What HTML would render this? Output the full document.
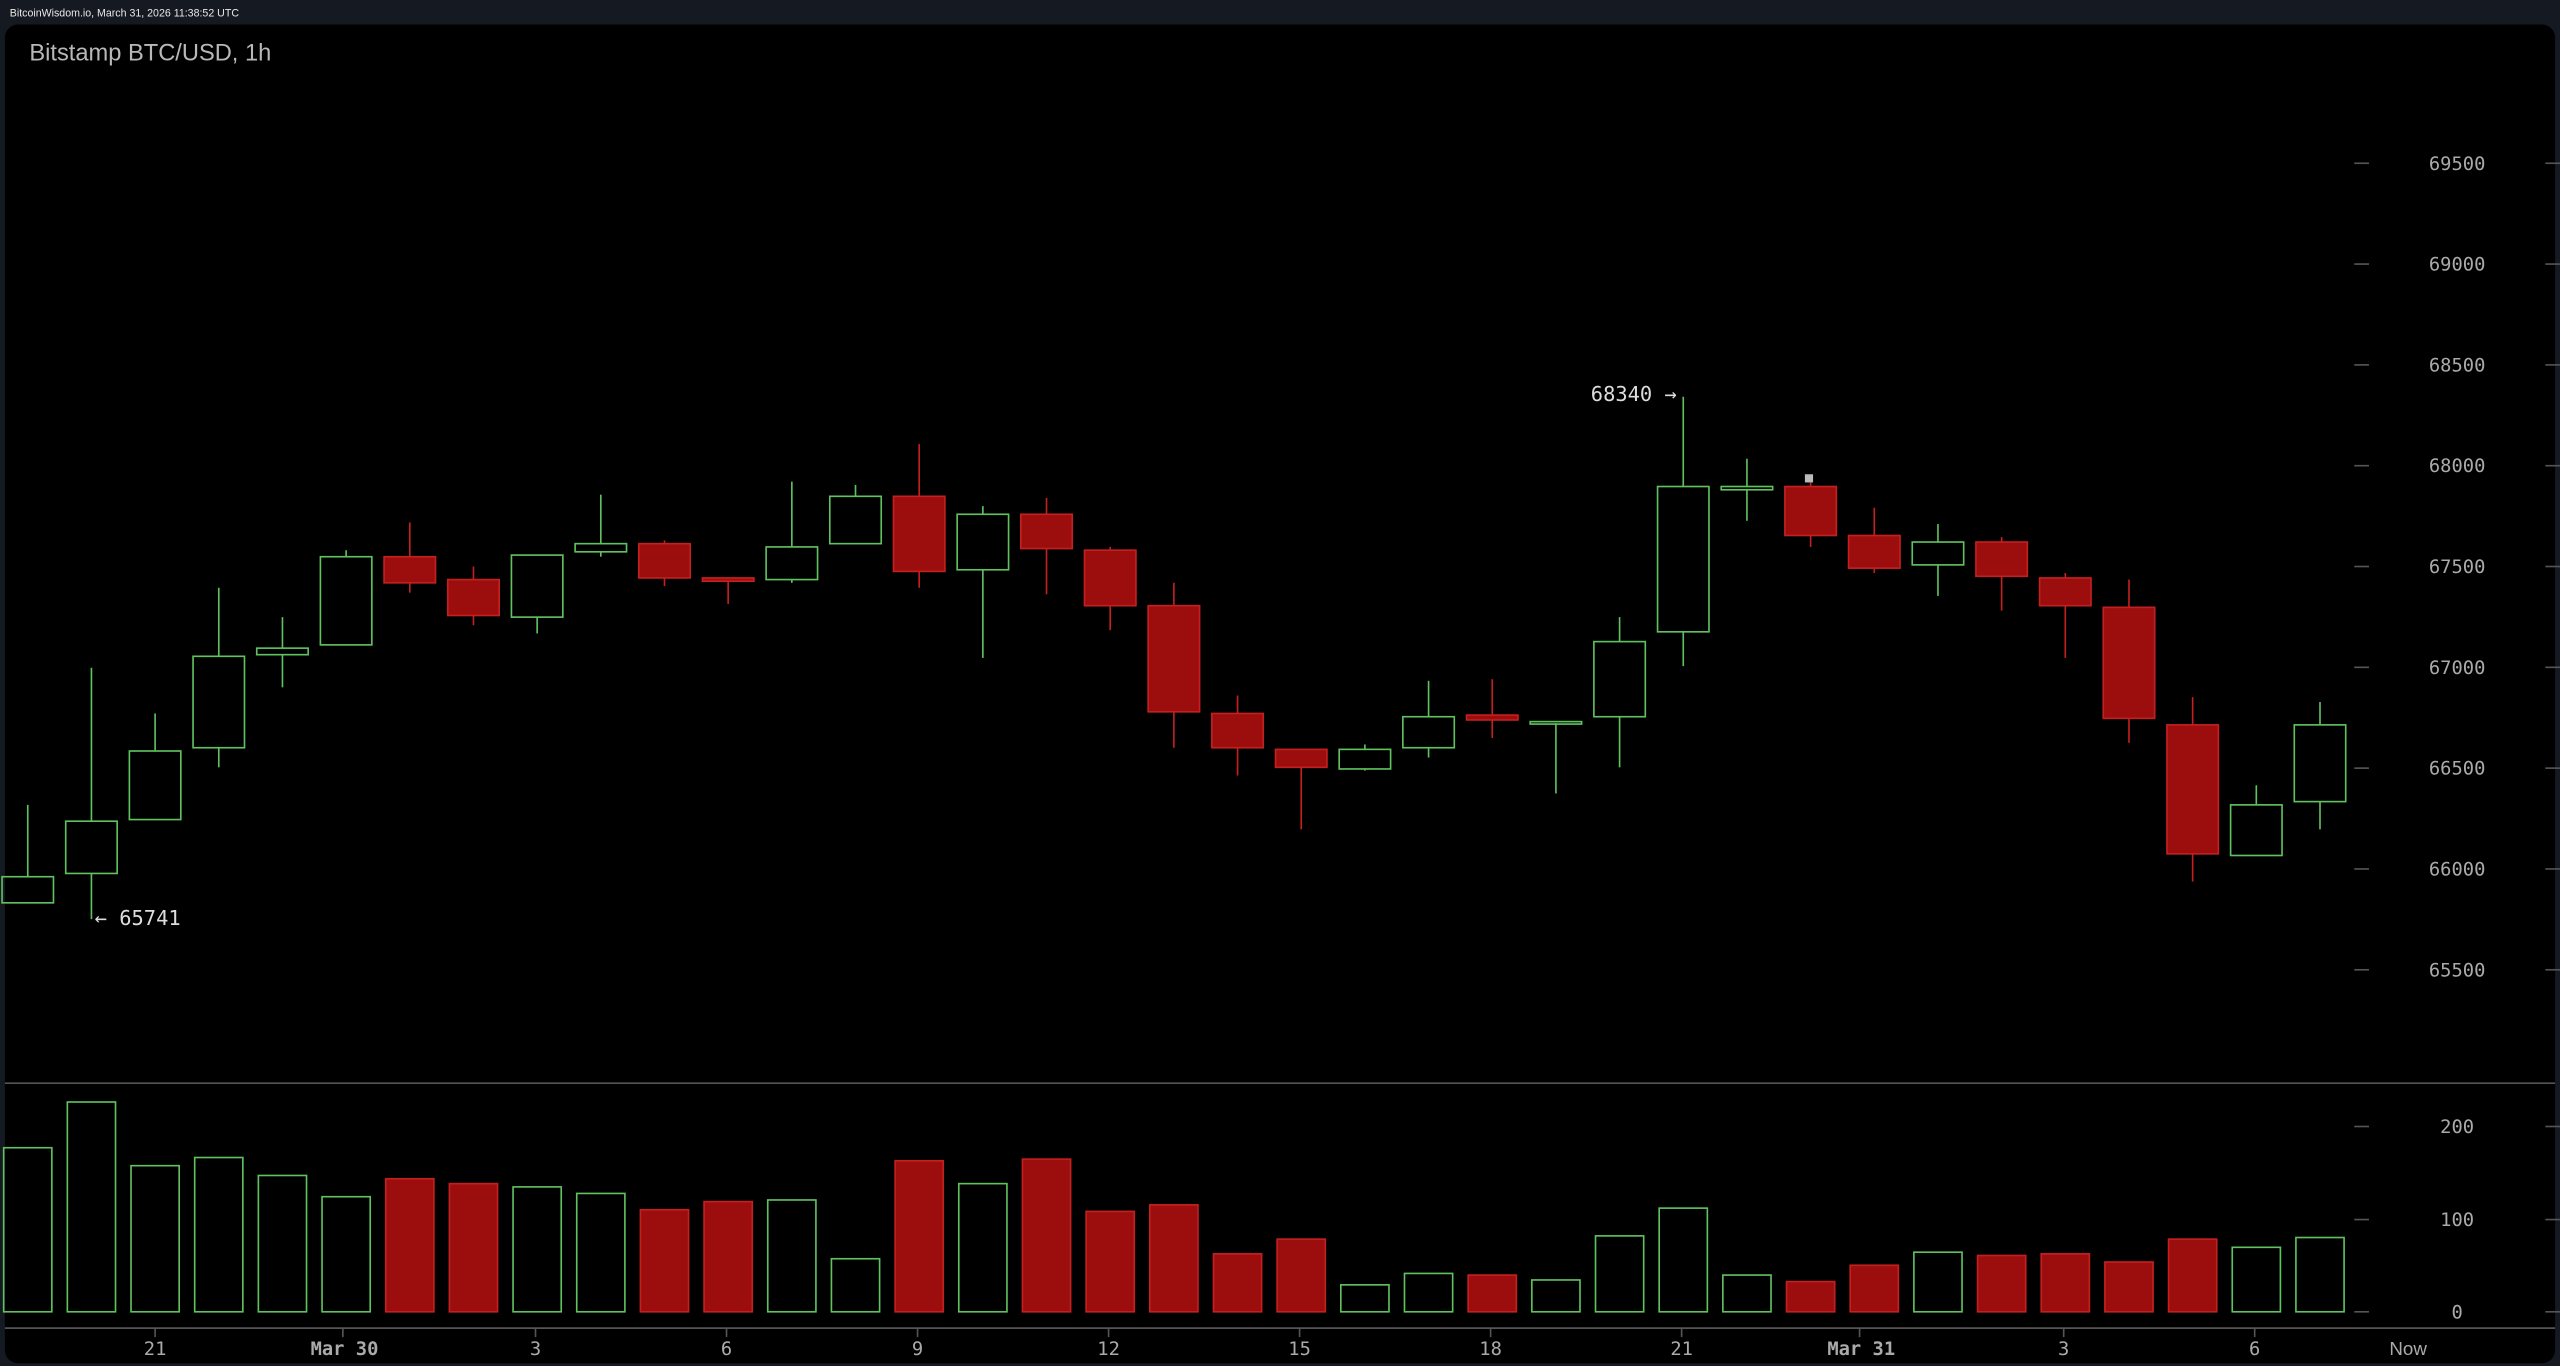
<!DOCTYPE html>
<html><head><meta charset="utf-8"><style>
html,body{margin:0;padding:0;background:#151922;width:2560px;height:1366px;overflow:hidden}
svg{display:block}
</style></head><body>
<svg width="2560" height="1366" viewBox="0 0 1568 836.7" preserveAspectRatio="none" xmlns="http://www.w3.org/2000/svg">
<rect x="0" y="0" width="1568" height="836.7" fill="#151922"/>
<text x="6" y="10" font-family="Liberation Sans, sans-serif" font-size="6.5" fill="#e8e8e8">BitcoinWisdom.io, March 31, 2026 11:38:52 UTC</text>
<rect x="3" y="15" width="1562" height="820" rx="8" fill="#000"/>
<text x="18" y="37" font-family="Liberation Sans, sans-serif" font-size="14.5" fill="#b8b8b8">Bitstamp BTC/USD, 1h</text>
<line x1="3" y1="663.5" x2="1565" y2="663.5" stroke="#555" stroke-width="1"/>
<line x1="3" y1="813.5" x2="1565" y2="813.5" stroke="#555" stroke-width="1"/>
<g font-family="DejaVu Sans Mono, Liberation Mono, monospace" font-size="11.5" fill="#aaa" text-anchor="middle" id="axes"></g>
<g id="c"></g>
<text x="58" y="566.5" font-family="DejaVu Sans Mono, monospace" font-size="12.5" fill="#ddd">← 65741</text>
<text x="1027" y="245.5" font-family="DejaVu Sans Mono, monospace" font-size="12.5" fill="#ddd" text-anchor="end">68340 →</text>
<rect x="1105.5" y="290.5" width="5" height="5" fill="#bbb"/>
</svg>
<script>
var NS="http://www.w3.org/2000/svg";
function el(t,a,p){var e=document.createElementNS(NS,t);for(var k in a)e.setAttribute(k,a[k]);p.appendChild(e);return e;}
var ax=document.getElementById('axes'),c=document.getElementById('c');
var prices=[69500,69000,68500,68000,67500,67000,66500,66000,65500];
prices.forEach(function(p){var y=100+(69500-p)/500*61.75;
 el('line',{x1:1442,y1:y,x2:1451,y2:y,stroke:'#555'},ax);el('line',{x1:1559,y1:y,x2:1568,y2:y,stroke:'#555'},ax);
 var t=el('text',{x:1505,y:y+4},ax);t.textContent=p;});
[[200,690],[100,747],[0,803.5]].forEach(function(v){var y=v[1];
 el('line',{x1:1442,y1:y,x2:1451,y2:y,stroke:'#555'},ax);el('line',{x1:1559,y1:y,x2:1568,y2:y,stroke:'#555'},ax);
 var t=el('text',{x:1505,y:y+4},ax);t.textContent=v[0];});
[["21",95],["Mar 30",211],["3",328],["6",445],["9",562],["12",679],["15",796],["18",913],["21",1030],["Mar 31",1140],["3",1264],["6",1381]].forEach(function(l){
 el('line',{x1:l[1]+(l[0].length>3?-1:0),y1:814,x2:l[1]+(l[0].length>3?-1:0),y2:819,stroke:'#555'},ax);
 var t=el('text',{x:l[1],y:830,'font-weight':l[0].length>3?'bold':'normal'},ax);t.textContent=l[0];});
var tn=el('text',{x:1475,y:830,'font-family':'Liberation Sans, sans-serif'},ax);tn.textContent="Now";
var d=[
['G',537,553,493,553,703],['G',503,535,409,563,675],['G',460,502,437,502,714],['G',402,458,360,470,709],
['G',397,401,378,421,720],['G',341,395,337,395,733],['R',341,357,320,363,722],['R',355,377,347,383,725],
['G',340,378,340,388,727],['G',333,338,303,341,731],['R',333,354,331,359,741],['R',354,356,354,370,736],
['G',335,355,295,357,735],['G',304,333,297,333,771],['R',304,350,272,360,711],['G',315,349,310,403,725],
['R',315,336,305,364,710],['R',337,371,335,386,742],['R',371,436,357,458,738],['R',437,458,426,475,768],
['R',459,470,459,508,759],['G',459,471,456,472,787],['G',439,458,417,464,780],['R',438,441,416,452,781],
['G',442,443,442,486,784],['G',393,439,378,470,757],['G',298,387,243,408,740],['G',298,300,281,319,781],
['R',298,328,291,335,785],['R',328,348,311,351,775],['G',332,346,321,365,767],['R',332,353,329,374,769],
['R',354,371,351,403,768],['R',372,440,355,455,773],['R',444,523,427,540,759],['G',493,524,481,524,764],['G',444,491,430,508,758]];
var G='#5fc25f',RS='#c42020',RF='#9c0e0e';
d.forEach(function(r,i){var x=17+39*i,w=31.5,g=r[0]=='G';
 var col=g?G:RS;
 if(r[3]<r[1])el('line',{x1:x,y1:r[3],x2:x,y2:r[1],stroke:col,'stroke-width':1},c);
 if(r[4]>r[2])el('line',{x1:x,y1:r[2],x2:x,y2:r[4],stroke:col,'stroke-width':1},c);
 var h=Math.max(r[2]-r[1],1.5);
 el('rect',{x:x-w/2,y:r[1],width:w,height:h,fill:g?'none':RF,stroke:col,'stroke-width':1},c);
 el('rect',{x:x-w/2+1,y:r[5],width:w-2,height:803.5-r[5],fill:g?'none':RF,stroke:col,'stroke-width':1},c);
});
</script>
</body></html>
